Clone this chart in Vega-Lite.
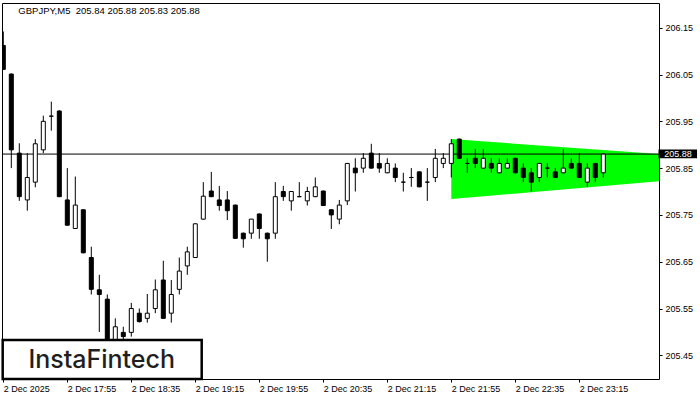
{
  "$schema": "https://vega.github.io/schema/vega-lite/v6.json",
  "width": 657,
  "height": 376,
  "autosize": "none",
  "padding": {"left": 2, "top": 3, "right": 41, "bottom": 21},
  "background": "white",
  "config": {
    "view": {"stroke": "black", "strokeWidth": 1},
    "axis": {"labelFont": "Liberation Sans", "labelFontSize": 9, "labelColor": "black", "tickColor": "black", "tickSize": 3, "domain": false, "grid": false, "title": null}
  },
  "layer": [
    {
      "data": {"values": [
        {"t": "2025-12-02T21:55:00Z", "top": 205.912, "bot": 205.784},
        {"t": "2025-12-03T00:05:00Z", "top": 205.880, "bot": 205.822}
      ]},
      "mark": {"type": "area", "color": "#00ff00", "opacity": 1, "clip": true},
      "encoding": {
        "x": {"field": "t", "type": "temporal", "scale": {"type": "utc", "padding": 0, "domain": [{"year": 2025, "month": 12, "date": 2, "hours": 17, "minutes": 14, "seconds": 11, "milliseconds": 250, "utc": true}, {"year": 2025, "month": 12, "date": 3, "hours": 0, "minutes": 4, "seconds": 48, "milliseconds": 750, "utc": true}]},
          "axis": {"orient": "bottom", "labelAlign": "left", "labelBaseline": "top", "labelPadding": 2, "labelOverlap": false, "labelBound": false, "labelFlush": false,
            "values": [
              {"year": 2025, "month": 12, "date": 2, "hours": 17, "minutes": 15, "utc": true},
              {"year": 2025, "month": 12, "date": 2, "hours": 17, "minutes": 55, "utc": true},
              {"year": 2025, "month": 12, "date": 2, "hours": 18, "minutes": 35, "utc": true},
              {"year": 2025, "month": 12, "date": 2, "hours": 19, "minutes": 15, "utc": true},
              {"year": 2025, "month": 12, "date": 2, "hours": 19, "minutes": 55, "utc": true},
              {"year": 2025, "month": 12, "date": 2, "hours": 20, "minutes": 35, "utc": true},
              {"year": 2025, "month": 12, "date": 2, "hours": 21, "minutes": 15, "utc": true},
              {"year": 2025, "month": 12, "date": 2, "hours": 21, "minutes": 55, "utc": true},
              {"year": 2025, "month": 12, "date": 2, "hours": 22, "minutes": 35, "utc": true},
              {"year": 2025, "month": 12, "date": 2, "hours": 23, "minutes": 15, "utc": true}
            ],
            "labelExpr": "datum.index == 0 ? '2 Dec 2025' : utcFormat(datum.value, '%-d %b %H:%M')"}},
        "y": {"field": "top", "type": "quantitative", "scale": {"domain": [205.3994, 206.2028], "nice": false, "zero": false, "padding": 0},
          "axis": {"orient": "right", "values": [205.45, 205.55, 205.65, 205.75, 205.85, 205.95, 206.05, 206.15], "format": ".2f", "labelAlign": "left", "labelBaseline": "middle", "labelPadding": 3}},
        "y2": {"field": "bot"}
      }
    },
    {
      "data": {"values": [{}]},
      "mark": {"type": "rule", "color": "black", "strokeWidth": 1},
      "encoding": {"y": {"datum": 205.88, "type": "quantitative"}}
    },
    {
      "data": {"values": [
        {"t": "2025-12-02T17:15:00Z", "o": 206.112, "h": 206.142, "l": 206.060, "c": 206.061},
        {"t": "2025-12-02T17:20:00Z", "o": 206.051, "h": 206.052, "l": 205.850, "c": 205.889},
        {"t": "2025-12-02T17:25:00Z", "o": 205.882, "h": 205.903, "l": 205.780, "c": 205.789},
        {"t": "2025-12-02T17:30:00Z", "o": 205.782, "h": 205.882, "l": 205.759, "c": 205.830},
        {"t": "2025-12-02T17:35:00Z", "o": 205.820, "h": 205.912, "l": 205.809, "c": 205.902},
        {"t": "2025-12-02T17:40:00Z", "o": 205.889, "h": 205.962, "l": 205.882, "c": 205.950},
        {"t": "2025-12-02T17:45:00Z", "o": 205.961, "h": 205.992, "l": 205.930, "c": 205.961},
        {"t": "2025-12-02T17:50:00Z", "o": 205.972, "h": 205.974, "l": 205.788, "c": 205.789},
        {"t": "2025-12-02T17:55:00Z", "o": 205.782, "h": 205.850, "l": 205.727, "c": 205.728},
        {"t": "2025-12-02T18:00:00Z", "o": 205.721, "h": 205.832, "l": 205.720, "c": 205.771},
        {"t": "2025-12-02T18:05:00Z", "o": 205.761, "h": 205.762, "l": 205.668, "c": 205.669},
        {"t": "2025-12-02T18:10:00Z", "o": 205.659, "h": 205.682, "l": 205.580, "c": 205.591},
        {"t": "2025-12-02T18:15:00Z", "o": 205.590, "h": 205.622, "l": 205.500, "c": 205.580},
        {"t": "2025-12-02T18:20:00Z", "o": 205.570, "h": 205.580, "l": 205.440, "c": 205.460},
        {"t": "2025-12-02T18:25:00Z", "o": 205.470, "h": 205.529, "l": 205.460, "c": 205.511},
        {"t": "2025-12-02T18:30:00Z", "o": 205.499, "h": 205.511, "l": 205.480, "c": 205.490},
        {"t": "2025-12-02T18:35:00Z", "o": 205.499, "h": 205.562, "l": 205.490, "c": 205.550},
        {"t": "2025-12-02T18:40:00Z", "o": 205.540, "h": 205.550, "l": 205.520, "c": 205.522},
        {"t": "2025-12-02T18:45:00Z", "o": 205.529, "h": 205.581, "l": 205.520, "c": 205.540},
        {"t": "2025-12-02T18:50:00Z", "o": 205.550, "h": 205.612, "l": 205.540, "c": 205.590},
        {"t": "2025-12-02T18:55:00Z", "o": 205.611, "h": 205.652, "l": 205.528, "c": 205.529},
        {"t": "2025-12-02T19:00:00Z", "o": 205.540, "h": 205.611, "l": 205.520, "c": 205.580},
        {"t": "2025-12-02T19:05:00Z", "o": 205.591, "h": 205.659, "l": 205.580, "c": 205.630},
        {"t": "2025-12-02T19:10:00Z", "o": 205.641, "h": 205.682, "l": 205.622, "c": 205.671},
        {"t": "2025-12-02T19:15:00Z", "o": 205.659, "h": 205.732, "l": 205.658, "c": 205.731},
        {"t": "2025-12-02T19:20:00Z", "o": 205.741, "h": 205.820, "l": 205.740, "c": 205.790},
        {"t": "2025-12-02T19:25:00Z", "o": 205.801, "h": 205.842, "l": 205.788, "c": 205.789},
        {"t": "2025-12-02T19:30:00Z", "o": 205.782, "h": 205.812, "l": 205.759, "c": 205.770},
        {"t": "2025-12-02T19:35:00Z", "o": 205.782, "h": 205.801, "l": 205.739, "c": 205.759},
        {"t": "2025-12-02T19:40:00Z", "o": 205.771, "h": 205.772, "l": 205.699, "c": 205.700},
        {"t": "2025-12-02T19:45:00Z", "o": 205.711, "h": 205.712, "l": 205.680, "c": 205.699},
        {"t": "2025-12-02T19:50:00Z", "o": 205.711, "h": 205.741, "l": 205.699, "c": 205.741},
        {"t": "2025-12-02T19:55:00Z", "o": 205.752, "h": 205.753, "l": 205.699, "c": 205.721},
        {"t": "2025-12-02T20:00:00Z", "o": 205.711, "h": 205.712, "l": 205.650, "c": 205.699},
        {"t": "2025-12-02T20:05:00Z", "o": 205.711, "h": 205.820, "l": 205.699, "c": 205.789},
        {"t": "2025-12-02T20:10:00Z", "o": 205.800, "h": 205.812, "l": 205.780, "c": 205.789},
        {"t": "2025-12-02T20:15:00Z", "o": 205.780, "h": 205.800, "l": 205.759, "c": 205.800},
        {"t": "2025-12-02T20:20:00Z", "o": 205.789, "h": 205.820, "l": 205.788, "c": 205.789},
        {"t": "2025-12-02T20:25:00Z", "o": 205.780, "h": 205.810, "l": 205.770, "c": 205.800},
        {"t": "2025-12-02T20:30:00Z", "o": 205.789, "h": 205.830, "l": 205.788, "c": 205.810},
        {"t": "2025-12-02T20:35:00Z", "o": 205.801, "h": 205.802, "l": 205.769, "c": 205.770},
        {"t": "2025-12-02T20:40:00Z", "o": 205.761, "h": 205.762, "l": 205.720, "c": 205.750},
        {"t": "2025-12-02T20:45:00Z", "o": 205.741, "h": 205.782, "l": 205.730, "c": 205.771},
        {"t": "2025-12-02T20:50:00Z", "o": 205.780, "h": 205.861, "l": 205.771, "c": 205.860},
        {"t": "2025-12-02T20:55:00Z", "o": 205.850, "h": 205.871, "l": 205.800, "c": 205.840},
        {"t": "2025-12-02T21:00:00Z", "o": 205.850, "h": 205.882, "l": 205.840, "c": 205.871},
        {"t": "2025-12-02T21:05:00Z", "o": 205.882, "h": 205.902, "l": 205.849, "c": 205.850},
        {"t": "2025-12-02T21:10:00Z", "o": 205.860, "h": 205.882, "l": 205.840, "c": 205.850},
        {"t": "2025-12-02T21:15:00Z", "o": 205.840, "h": 205.871, "l": 205.839, "c": 205.860},
        {"t": "2025-12-02T21:20:00Z", "o": 205.850, "h": 205.860, "l": 205.820, "c": 205.830},
        {"t": "2025-12-02T21:25:00Z", "o": 205.820, "h": 205.840, "l": 205.800, "c": 205.820},
        {"t": "2025-12-02T21:30:00Z", "o": 205.830, "h": 205.850, "l": 205.810, "c": 205.830},
        {"t": "2025-12-02T21:35:00Z", "o": 205.842, "h": 205.843, "l": 205.809, "c": 205.810},
        {"t": "2025-12-02T21:40:00Z", "o": 205.820, "h": 205.850, "l": 205.780, "c": 205.820},
        {"t": "2025-12-02T21:45:00Z", "o": 205.830, "h": 205.891, "l": 205.820, "c": 205.871},
        {"t": "2025-12-02T21:50:00Z", "o": 205.860, "h": 205.882, "l": 205.850, "c": 205.871},
        {"t": "2025-12-02T21:55:00Z", "o": 205.860, "h": 205.912, "l": 205.830, "c": 205.902},
        {"t": "2025-12-02T22:00:00Z", "o": 205.912, "h": 205.913, "l": 205.870, "c": 205.871},
        {"t": "2025-12-02T22:05:00Z", "o": 205.860, "h": 205.871, "l": 205.840, "c": 205.860},
        {"t": "2025-12-02T22:10:00Z", "o": 205.871, "h": 205.891, "l": 205.850, "c": 205.860},
        {"t": "2025-12-02T22:15:00Z", "o": 205.850, "h": 205.891, "l": 205.849, "c": 205.871},
        {"t": "2025-12-02T22:20:00Z", "o": 205.860, "h": 205.871, "l": 205.840, "c": 205.850},
        {"t": "2025-12-02T22:25:00Z", "o": 205.840, "h": 205.871, "l": 205.839, "c": 205.860},
        {"t": "2025-12-02T22:30:00Z", "o": 205.850, "h": 205.871, "l": 205.849, "c": 205.860},
        {"t": "2025-12-02T22:35:00Z", "o": 205.871, "h": 205.872, "l": 205.839, "c": 205.840},
        {"t": "2025-12-02T22:40:00Z", "o": 205.850, "h": 205.860, "l": 205.820, "c": 205.830},
        {"t": "2025-12-02T22:45:00Z", "o": 205.840, "h": 205.850, "l": 205.800, "c": 205.820},
        {"t": "2025-12-02T22:50:00Z", "o": 205.830, "h": 205.861, "l": 205.820, "c": 205.860},
        {"t": "2025-12-02T22:55:00Z", "o": 205.850, "h": 205.860, "l": 205.830, "c": 205.850},
        {"t": "2025-12-02T23:00:00Z", "o": 205.842, "h": 205.850, "l": 205.829, "c": 205.830},
        {"t": "2025-12-02T23:05:00Z", "o": 205.840, "h": 205.891, "l": 205.839, "c": 205.850},
        {"t": "2025-12-02T23:10:00Z", "o": 205.860, "h": 205.871, "l": 205.849, "c": 205.850},
        {"t": "2025-12-02T23:15:00Z", "o": 205.860, "h": 205.882, "l": 205.829, "c": 205.830},
        {"t": "2025-12-02T23:20:00Z", "o": 205.820, "h": 205.860, "l": 205.810, "c": 205.850},
        {"t": "2025-12-02T23:25:00Z", "o": 205.860, "h": 205.861, "l": 205.820, "c": 205.830},
        {"t": "2025-12-02T23:30:00Z", "o": 205.840, "h": 205.882, "l": 205.830, "c": 205.880}
      ]},
      "layer": [
        {
          "mark": {"type": "rule", "color": "black", "strokeWidth": 1, "clip": true},
          "encoding": {
            "x": {"field": "t", "type": "temporal"},
            "y": {"field": "l", "type": "quantitative"},
            "y2": {"field": "h"}
          }
        },
        {
          "mark": {"type": "bar", "size": 4, "stroke": "black", "strokeWidth": 1, "clip": true},
          "encoding": {
            "x": {"field": "t", "type": "temporal"},
            "y": {"field": "o", "type": "quantitative"},
            "y2": {"field": "c"},
            "fill": {"condition": {"test": "datum.c >= datum.o", "value": "white"}, "value": "black"}
          }
        }
      ]
    },
    {
      "data": {"values": [{}]},
      "mark": {"type": "rect", "fill": "white", "stroke": "black", "strokeWidth": 2.5},
      "encoding": {
        "x": {"datum": {"year": 2025, "month": 12, "date": 2, "hours": 17, "minutes": 14, "seconds": 37, "utc": true}, "type": "temporal"},
        "x2": {"datum": {"year": 2025, "month": 12, "date": 2, "hours": 19, "minutes": 19, "utc": true}},
        "y": {"datum": 205.4827, "type": "quantitative"},
        "y2": {"datum": 205.3994}
      }
    },
    {
      "data": {"values": [{}]},
      "mark": {"type": "text", "text": "InstaFintech", "font": "Inter", "fontSize": 25, "fontWeight": 500, "color": "#1f1f1f", "align": "center", "baseline": "alphabetic"},
      "encoding": {
        "x": {"datum": {"year": 2025, "month": 12, "date": 2, "hours": 18, "minutes": 16, "seconds": 30, "utc": true}, "type": "temporal"},
        "y": {"datum": 205.423, "type": "quantitative"}
      }
    },
    {
      "data": {"values": [{}]},
      "mark": {"type": "text", "text": "GBPJPY,M5\u00a0 205.84 205.88 205.83 205.88", "font": "Liberation Sans", "fontSize": 9.5, "color": "black", "align": "left", "baseline": "alphabetic"},
      "encoding": {
        "x": {"datum": {"year": 2025, "month": 12, "date": 2, "hours": 17, "minutes": 24, "seconds": 23, "utc": true}, "type": "temporal"},
        "y": {"datum": 206.1793, "type": "quantitative"}
      }
    },
    {
      "data": {"values": [{}]},
      "mark": {"type": "rect", "fill": "black"},
      "encoding": {
        "x": {"datum": {"year": 2025, "month": 12, "date": 3, "hours": 0, "minutes": 4, "seconds": 30, "utc": true}, "type": "temporal"},
        "x2": {"datum": {"year": 2025, "month": 12, "date": 3, "hours": 0, "minutes": 28, "seconds": 35, "utc": true}},
        "y": {"datum": 205.890, "type": "quantitative"},
        "y2": {"datum": 205.871}
      }
    },
    {
      "data": {"values": [{}]},
      "mark": {"type": "text", "text": "205.88", "font": "Liberation Sans", "fontSize": 9, "color": "white", "align": "center", "baseline": "middle"},
      "encoding": {
        "x": {"datum": {"year": 2025, "month": 12, "date": 3, "hours": 0, "minutes": 16, "seconds": 41, "utc": true}, "type": "temporal"},
        "y": {"datum": 205.8805, "type": "quantitative"}
      }
    }
  ]
}
